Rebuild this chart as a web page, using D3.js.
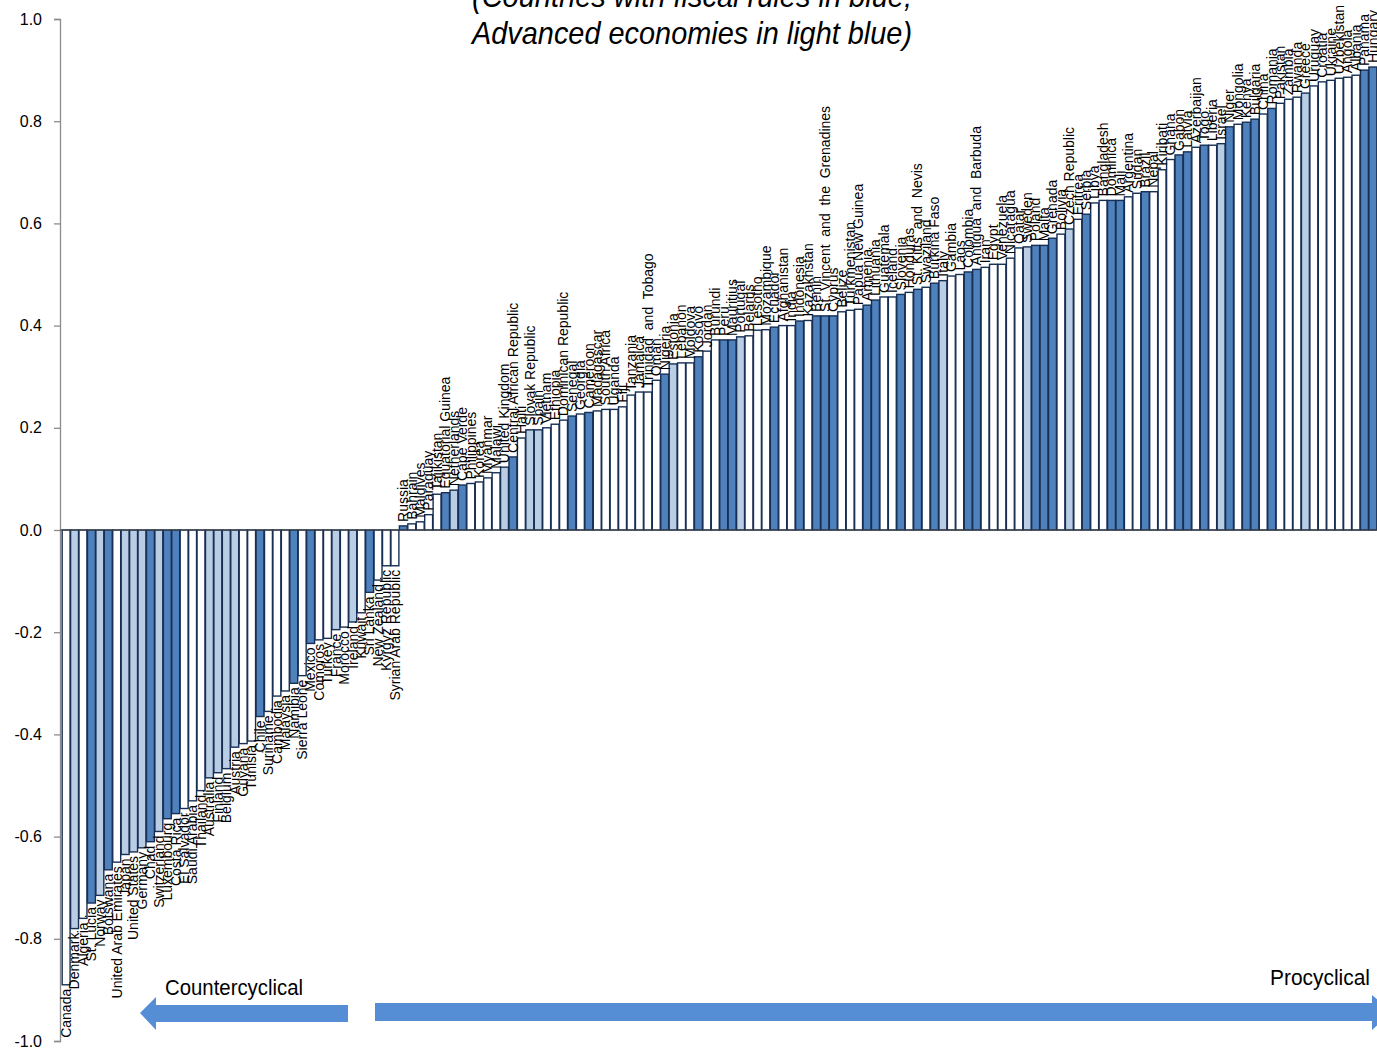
<!DOCTYPE html>
<html><head><meta charset="utf-8">
<script src="https://cdn.jsdelivr.net/npm/d3@7"></script>
<style>
html,body{margin:0;padding:0;background:#fff;}
svg{display:block;}
text{font-family:"Liberation Sans",Arial,sans-serif;}
.narrow{font-family:"Liberation Sans Narrow","Arial Narrow","Liberation Sans",Arial,sans-serif;}
</style></head>
<body>
<svg id="chart" width="1377" height="1051"></svg>
<script>
const countries = ["Canada","Denmark","Algeria","St. Lucia","Norway","Botswana","United Arab Emirates","Japan","United States","Germany","Chad","Switzerland","Luxembourg","Costa Rica","El Salvador","Saudi Arabia","Thailand","Australia","Finland","Belgium","Austria","Guyana","Tunisia","Chile","Suriname","Cambodia","Malaysia","Namibia","Sierra Leone","Mexico","Comoros","Turkey","France","Morocco","Ireland","Kuwait","Sri Lanka","New Zealand","Kyrgyz Republic","Syrian Arab Republic",
"Russia","Bahrain","Maldives","Paraguay","Tajikistan","Equatorial Guinea","Netherlands","Cape Verde","Philippines","Korea","Myanmar","Malawi","United Kingdom","Central African Republic","Haiti","Slovak Republic","Spain","Vietnam","Ethiopia","Dominican Republic","Senegal","Georgia","Cameroon","Madagascar","South Africa","Uganda","Fiji","Tanzania","Jamaica","Trinidad  and  Tobago","Oman","Nigeria","Estonia","Lebanon","Moldova","Kosovo","Jordan","Burundi","Peru","Mauritius","Portugal","Belarus","Lesotho","Mozambique","Ecuador","Afghanistan","India","Indonesia","Kazakhstan","Benin","St. Vincent  and  the  Grenadines","Cyprus","Belize","Turkmenistan","Papua New Guinea","Armenia","Lithuania","Guatemala","Iceland","Slovenia","Honduras","St. Kitts  and  Nevis","Swaziland","Burkina Faso","Italy","Gambia","Laos","Colombia","Antigua  and  Barbuda","Iran","Egypt","Venezuela","Nicaragua","Qatar","Sweden","Poland","Malta","Grenada","Bolivia","Czech Republic","Eritrea","Serbia","Libya","Bangladesh","Dominica","Mali","Argentina","Sudan","Brazil","Nepal","Kiribati","Ghana","Gabon","Latvia","Azerbaijan","Togo","Liberia","Israel","Niger","Mongolia","Kenya","Bulgaria","China","Romania","Pakistan","Zambia","Rwanda","Greece","Uruguay","Croatia","Ukraine","Uzbekistan","Angola","Albania","Panama","Hungary"];

const values = [-0.89,-0.78,-0.76,-0.73,-0.715,-0.665,-0.65,-0.635,-0.63,-0.622,-0.61,-0.59,-0.565,-0.555,-0.545,-0.53,-0.51,-0.485,-0.475,-0.467,-0.425,-0.418,-0.413,-0.365,-0.355,-0.325,-0.315,-0.30,-0.285,-0.222,-0.215,-0.212,-0.195,-0.19,-0.18,-0.162,-0.122,-0.098,-0.07,-0.07,
0.008,0.012,0.016,0.03,0.07,0.073,0.078,0.088,0.091,0.094,0.102,0.112,0.123,0.143,0.18,0.196,0.196,0.2,0.207,0.215,0.223,0.227,0.23,0.233,0.236,0.236,0.241,0.264,0.27,0.27,0.293,0.305,0.325,0.327,0.327,0.339,0.35,0.372,0.372,0.372,0.378,0.38,0.391,0.392,0.397,0.4,0.4,0.409,0.41,0.419,0.419,0.419,0.427,0.43,0.432,0.44,0.45,0.456,0.456,0.461,0.465,0.471,0.475,0.483,0.488,0.497,0.5,0.505,0.51,0.514,0.52,0.52,0.532,0.552,0.554,0.557,0.557,0.571,0.579,0.589,0.608,0.618,0.64,0.645,0.645,0.645,0.652,0.659,0.662,0.662,0.705,0.725,0.734,0.74,0.749,0.753,0.753,0.756,0.789,0.794,0.798,0.804,0.814,0.825,0.835,0.843,0.847,0.855,0.869,0.877,0.88,0.884,0.886,0.89,0.9,0.906];

// W = other, B = fiscal rules, L = advanced economy
const groups = ["W","L","W","B","L","B","W","L","L","L","B","L","B","B","W","W","W","L","L","L","L","W","W","B","W","W","W","B","W","B","W","W","L","W","L","W","B","W","W","W",
"B","W","W","W","W","B","L","B","W","W","W","W","L","B","W","L","L","W","W","W","B","W","B","W","W","W","W","W","W","W","W","B","L","W","W","B","W","W","B","B","L","W","W","W","B","W","W","B","W","B","B","B","W","W","W","B","B","W","W","B","W","B","W","B","L","W","W","B","B","W","W","W","W","W","L","B","B","B","W","L","W","B","W","W","B","B","W","W","B","W","W","W","B","B","W","B","W","L","B","W","B","B","W","B","W","W","W","L","W","W","W","W","W","W","B","B"];

const yTicks = [-1.0,-0.8,-0.6,-0.4,-0.2,0.0,0.2,0.4,0.6,0.8,1.0];
const titleLines = ["(Countries with fiscal rules in blue,","Advanced economies in light blue)"];
const arrowLabels = ["Countercyclical","Procyclical"];

const fills = {W:"#ffffff", B:"#4f81bd", L:"#b9cde5"};
const data = countries.map((c,i)=>({name:c, value:values[i], group:groups[i]}));

const svg = d3.select("#chart");
const y = d3.scaleLinear().domain([-1,1]).range([1041,19]);
const x = d3.scaleBand().domain(countries).range([62,1377]).paddingInner(0.06).paddingOuter(0.02);

// y axis
const yAxis = d3.axisLeft(y).tickValues(yTicks).tickFormat(d=>d.toFixed(1)).tickSize(6).tickPadding(12);
const gA = svg.append("g").attr("transform","translate(60,0)").call(yAxis);
gA.select(".domain").attr("stroke","#8c8c8c").attr("stroke-width",1.3);
gA.selectAll(".tick line").attr("stroke","#8c8c8c").attr("stroke-width",1.3);
gA.selectAll(".tick text").attr("font-size",16).attr("fill","#000").style("font-family","'Liberation Sans',Arial,sans-serif");

// bars
svg.append("g").selectAll("rect").data(data).join("rect")
  .attr("x",d=>x(d.name))
  .attr("width",x.bandwidth())
  .attr("y",d=>Math.min(y(d.value),y(0)))
  .attr("height",d=>Math.abs(y(d.value)-y(0)))
  .attr("fill",d=>fills[d.group])
  .attr("stroke","#172f54")
  .attr("stroke-width",1.4);

// zero line
svg.append("line").attr("x1",60).attr("x2",1377).attr("y1",y(0)).attr("y2",y(0))
  .attr("stroke","#404040").attr("stroke-width",1.2);

// labels
svg.append("g").selectAll("text").data(data).join("text")
  .attr("transform",d=>{
    const cx = x(d.name)+x.bandwidth()/2+4.8;
    const yy = d.value>=0 ? y(d.value)-4 : y(d.value)+4;
    return `translate(${cx},${yy}) rotate(-90)`;
  })
  .attr("text-anchor",d=>d.value>=0?"start":"end")
  .attr("font-size",14)
  .style("white-space","pre")
  .attr("fill","#000")
  .text(d=>d.name);

// title
svg.append("text").attr("class","narrow").attr("x",692).attr("y",7).attr("text-anchor","middle")
  .attr("font-size",32).attr("font-style","italic")
  .attr("textLength",440).attr("lengthAdjust","spacingAndGlyphs")
  .text(titleLines[0]);
svg.append("text").attr("class","narrow").attr("x",692).attr("y",44).attr("text-anchor","middle")
  .attr("font-size",32).attr("font-style","italic")
  .attr("textLength",440).attr("lengthAdjust","spacingAndGlyphs")
  .text(titleLines[1]);

// arrows
const arrowColor = "#558ed5";
svg.append("path").attr("fill",arrowColor)
  .attr("d","M140,1013 L156,997 L156,1005 L348,1005 L348,1022 L156,1022 L156,1030 Z");
svg.append("path").attr("fill",arrowColor)
  .attr("d","M375,1003 L1372,1003 L1372,995 L1392,1012 L1372,1030 L1372,1021 L375,1021 Z");
svg.append("text").attr("class","narrow").attr("x",165).attr("y",995).attr("font-size",22)
  .attr("textLength",138).attr("lengthAdjust","spacingAndGlyphs").text(arrowLabels[0]);
svg.append("text").attr("class","narrow").attr("x",1270).attr("y",985).attr("font-size",22)
  .attr("textLength",100).attr("lengthAdjust","spacingAndGlyphs").text(arrowLabels[1]);
</script>
</body></html>
